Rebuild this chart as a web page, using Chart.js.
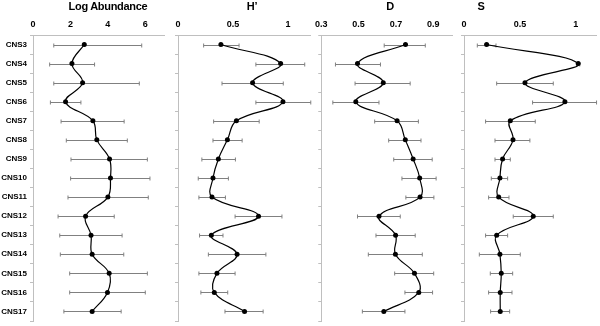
<!DOCTYPE html>
<html>
<head>
<meta charset="utf-8">
<script src="https://cdn.jsdelivr.net/npm/chart.js@4/dist/chart.umd.min.js"></script>
<style>
  body { margin: 0; background: #fff; }
  #page { position: relative; width: 600px; height: 326px; overflow: hidden; font-family: "Liberation Sans", Arial, sans-serif; }
  .panel { position: absolute; top: 0; height: 326px; }
  .title { position: absolute; top: 0; font-weight: bold; font-size: 11px; letter-spacing: -0.3px; transform: translateX(-50%); white-space: nowrap; }
</style>
</head>
<body>
<div id="page">
  <div class="panel" style="left:0;width:168px"><canvas id="c1"></canvas></div>
  <div class="panel" style="left:168px;width:146px"><canvas id="c2"></canvas></div>
  <div class="panel" style="left:310px;width:146px"><canvas id="c3"></canvas></div>
  <div class="panel" style="left:454px;width:146px"><canvas id="c4"></canvas></div>
  <div class="title" style="left:108px">Log Abundance</div>
  <div class="title" style="left:252px">H’</div>
  <div class="title" style="left:390px">D</div>
  <div class="title" style="left:481px">S</div>
</div>
<script>
const sites = ['CNS3','CNS4','CNS5','CNS6','CNS7','CNS8','CNS9','CNS10','CNS11','CNS12','CNS13','CNS14','CNS15','CNS16','CNS17']

// log abundance
const abund     = [2.74, 2.08, 2.65, 1.74, 3.20, 3.41, 4.09, 4.14, 4.00, 2.81, 3.10, 3.16, 4.07, 3.98, 3.16]
const abundLow  = [1.11, 0.89, 1.11, 0.93, 1.50, 1.78, 2.03, 2.01, 1.87, 1.34, 1.43, 1.46, 1.96, 1.96, 1.65]
const abundHigh = [5.81, 3.29, 5.68, 2.56, 4.87, 5.04, 6.11, 6.25, 6.16, 4.34, 4.76, 4.85, 6.11, 6.00, 4.71]
const abundTicks = [0, 2, 4, 6]

// shannon H'
const shannon     = [0.39, 0.933, 0.678, 0.954, 0.531, 0.449, 0.367, 0.318, 0.309, 0.732, 0.303, 0.537, 0.354, 0.330, 0.605]
const shannonLow  = [0.233, 0.708, 0.400, 0.708, 0.324, 0.318, 0.217, 0.184, 0.190, 0.519, 0.196, 0.276, 0.190, 0.208, 0.427]
const shannonHigh = [0.555, 1.152, 0.957, 1.207, 0.738, 0.583, 0.522, 0.458, 0.431, 0.945, 0.409, 0.799, 0.519, 0.452, 0.774]
const shannonTicks = [0, 0.5, 1]

// simpson D
const simpson     = [0.751, 0.494, 0.632, 0.485, 0.706, 0.750, 0.792, 0.827, 0.829, 0.609, 0.698, 0.697, 0.799, 0.822, 0.635]
const simpsonLow  = [0.637, 0.376, 0.481, 0.362, 0.586, 0.661, 0.688, 0.732, 0.753, 0.494, 0.593, 0.552, 0.693, 0.748, 0.520]
const simpsonHigh = [0.857, 0.617, 0.776, 0.609, 0.820, 0.834, 0.894, 0.915, 0.903, 0.723, 0.803, 0.841, 0.902, 0.896, 0.748]
const simpsonTicks = [0.3, 0.5, 0.7, 0.9]

// richness S
const rich     = [0.202, 1.021, 0.545, 0.902, 0.414, 0.438, 0.345, 0.321, 0.310, 0.619, 0.292, 0.321, 0.333, 0.324, 0.324]
const richLow  = [0.119, 1.005, 0.292, 0.613, 0.193, 0.277, 0.277, 0.244, 0.220, 0.440, 0.193, 0.137, 0.235, 0.220, 0.238]
const richHigh = [0.286, 1.035, 0.798, 1.185, 0.637, 0.589, 0.414, 0.390, 0.402, 0.798, 0.390, 0.503, 0.435, 0.429, 0.408]
const richTicks = [0, 0.5, 1]

const FONT = 'Liberation Sans, Arial, sans-serif'
const AXIS_GREY = '#bfbfbf'

// horizontal error bars, drawn under the line
const errorBars = {
  id: 'errorBars',
  beforeDatasetsDraw(chart, args, opts) {
    const ctx = chart.ctx, xs = chart.scales.x, ys = chart.scales.y
    ctx.save()
    ctx.strokeStyle = '#808080'
    ctx.lineWidth = 1
    opts.low.forEach((lo, i) => {
      const y = Math.round(ys.getPixelForValue(i)) + 0.5
      const x1 = xs.getPixelForValue(lo), x2 = xs.getPixelForValue(opts.high[i])
      ctx.beginPath()
      ctx.moveTo(x1, y); ctx.lineTo(x2, y)
      ctx.moveTo(x1, y - 2); ctx.lineTo(x1, y + 2)
      ctx.moveTo(x2, y - 2); ctx.lineTo(x2, y + 2)
      ctx.stroke()
    })
    ctx.restore()
  }
}

function makePanel(id, values, low, high, min, max, ticks, yWidth, padRight, showLabels) {
  return new Chart(document.getElementById(id), {
    type: 'line',
    data: {
      labels: sites,
      datasets: [{
        data: values,
        borderColor: '#000',
        borderWidth: 1.2,
        backgroundColor: '#000',
        pointRadius: 2.5,
        pointBorderWidth: 0,
        tension: 0.4,
        fill: false
      }]
    },
    options: {
      indexAxis: 'y',
      responsive: true,
      maintainAspectRatio: false,
      animation: false,
      layout: { padding: { top: 0, right: padRight, bottom: 5, left: 0 } },
      plugins: {
        legend: { display: false },
        tooltip: { enabled: false },
        errorBars: { low: low, high: high }
      },
      scales: {
        x: {
          type: 'linear',
          position: 'top',
          min: min,
          max: max,
          afterBuildTicks: s => { s.ticks = ticks.map(v => ({ value: v })) },
          afterFit: s => { s.height = 35 },
          grid: { drawOnChartArea: false, drawTicks: false },
          border: { color: AXIS_GREY },
          ticks: { color: '#000', padding: 5, font: { family: FONT, size: 9, weight: 'bold' }, callback: v => String(v) }
        },
        y: {
          type: 'category',
          offset: true,
          afterFit: s => { s.width = yWidth; s.paddingTop = 0; s.paddingBottom = 0 },
          grid: { offset: true, drawOnChartArea: false, drawTicks: true, tickLength: 3, color: AXIS_GREY },
          border: { color: AXIS_GREY },
          ticks: { display: showLabels, color: '#000', padding: 3, font: { family: FONT, size: 8, weight: 'bold' } }
        }
      }
    },
    plugins: [errorBars]
  })
}

makePanel('c1', abund, abundLow, abundHigh, 0, 7, abundTicks, 33, 3, true)
makePanel('c2', shannon, shannonLow, shannonHigh, 0, 1.2, shannonTicks, 10, 4, false)
makePanel('c3', simpson, simpsonLow, simpsonHigh, 0.3, 1.0, simpsonTicks, 10, 3, false)
makePanel('c4', rich, richLow, richHigh, 0, 1.18, richTicks, 10, 3, false)
</script>
</body>
</html>
